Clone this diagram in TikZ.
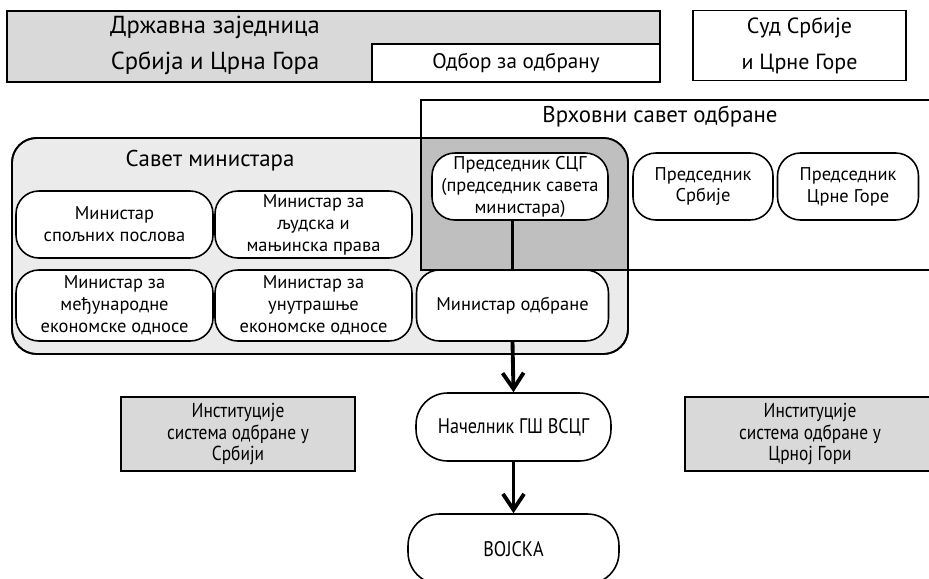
\documentclass[tikz,border=0pt]{standalone}
\usepackage{fontspec}
\setmainfont{PT Sans}
\newfontfamily\narrowfont[FakeStretch=0.86]{PT Sans}
\usetikzlibrary{arrows.meta, positioning}

\tikzset{
  panel/.style={draw, line width=1pt},
  member/.style={draw, line width=0.9pt, fill=white, rounded corners=13pt, align=center,
    minimum width=3.94cm, minimum height=1.34cm, inner sep=1pt,
    font=\fontsize{10.5}{12.5}\selectfont},
  chainbox/.style={draw, line width=0.9pt, fill=white, rounded corners=18pt, align=center,
    font=\narrowfont\fontsize{12}{14}\selectfont},
  inst/.style={draw, line width=1pt, fill=black!15, align=center, minimum height=1.44cm,
    font=\narrowfont\fontsize{11.5}{12.5}\selectfont},
  chain/.style={line width=2.2pt, -{Straight Barb[length=9pt,width=12pt]}},
}

\begin{document}
\begin{tikzpicture}[x=0.02cm, y=-0.02cm]
\useasboundingbox (0,0) rectangle (929,578);
\clip (0,0) rectangle (929,578);

% --- Top row: state union, committee, court ---
\draw[panel, fill=black!15] (7,11) rectangle (660,82);
\node[align=center, font=\fontsize{14}{20.4}\selectfont] (zajednica) at (215,45)
  {Државна заједница\\Србија и Црна Гора};
\node[panel, fill=white, minimum width=5.76cm, minimum height=0.76cm,
  font=\fontsize{12}{14}\selectfont] (odbor) at (516,63) {Одбор за одбрану};
\node[panel, align=center, minimum width=4.26cm, minimum height=1.4cm,
  font=\fontsize{12.5}{20.4}\selectfont] (sud) at (799.5,45.5) {Суд Србије\\и Црне Горе};

% --- Council of ministers and supreme defence council ---
\draw[line width=1pt, fill=black!8, rounded corners=14pt] (12,138) rectangle (628,354);
\begin{scope}
  \clip[rounded corners=14pt] (12,138) rectangle (628,354);
  \fill[black!25] (421,100) rectangle (950,270);
\end{scope}
\draw[panel] (421,100) rectangle (950,270);
\draw[line width=1pt, rounded corners=14pt] (12,138) rectangle (628,354);

\node[font=\fontsize{13}{15}\selectfont] (savet) at (210,161) {Савет министара};
\node[font=\fontsize{13}{15}\selectfont] (vso) at (660,117) {Врховни савет одбране};

% Ministers
\node[member] (spoljni) at (114.5,224.5) {Министар\\спољних послова};
\node[member] (ljudska) at (313.5,224.5) {Министар за\\људска и\\мањинска права};
\node[member, minimum height=1.42cm] (medjunar) at (114.5,305.5)
  {Министар за\\међународне\\економске односе};
\node[member, minimum height=1.42cm] (unutr) at (313.5,305.5)
  {Министар за\\унутрашње\\економске односе};
\node[member, minimum width=3.84cm, minimum height=1.42cm] (mo) at (512.5,305.5)
  {Министар одбране};

% Presidents
\node[member, minimum width=3.52cm] (predscg) at (520,186.5)
  {Председник СЦГ\\(председник савета\\министара)};
\node[member, minimum width=2.8cm] (predsrb) at (703,186.5) {Председник\\Србије};
\node[member, minimum width=2.82cm] (predcg) at (848,186.5) {Председник\\Црне Горе};

% --- Chain of command ---
\node[chainbox, minimum width=3.9cm, minimum height=1.36cm] (nacelnik) at (513.5,427)
  {Начелник ГШ ВСЦГ};
\node[chainbox, minimum width=4.22cm, minimum height=1.4cm] (vojska) at (513.5,549)
  {ВОЈСКА};

\node[inst, minimum width=4.68cm] (instsrb) at (238,434)
  {Институције\\система одбране у\\Србији};
\node[inst, minimum width=5cm] (instcg) at (810,434)
  {Институције\\система одбране у\\Црној Гори};

\draw[line width=2.2pt] (mo.north) -- (mo.north |- predscg.south);
\draw[chain] (mo.south) -- (nacelnik.north);
\draw[chain] (nacelnik.south) -- (vojska.north);

\end{tikzpicture}
\end{document}
